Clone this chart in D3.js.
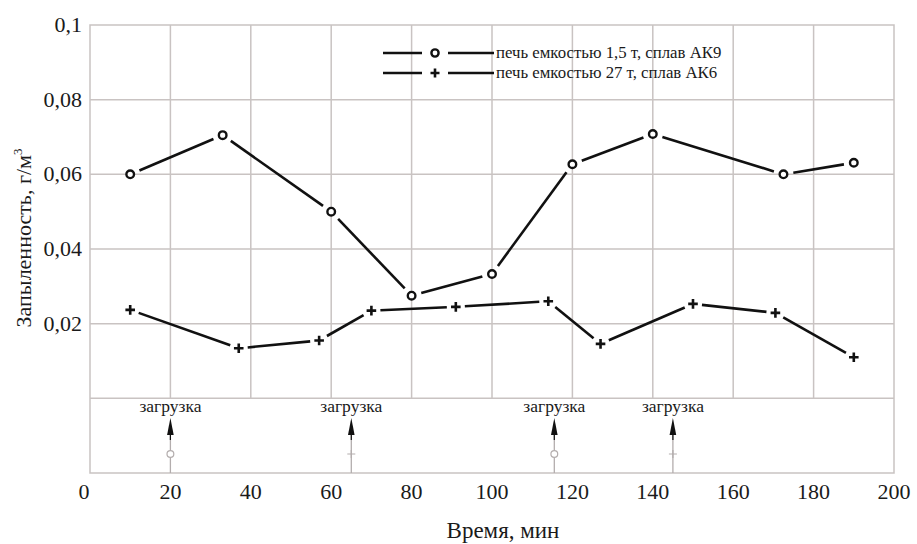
<!DOCTYPE html>
<html>
<head>
<meta charset="utf-8">
<script src="https://cdn.jsdelivr.net/npm/d3@7"></script>
<style>
  body { margin: 0; background: #fff; }
  svg text { fill: #1a1a1a; font-family: "Liberation Serif", serif; }
</style>
</head>
<body>
<script>
// Data
var timeAK9 = [10, 33, 60, 80, 100, 120, 140, 172.5, 190];
var dustAK9 = [0.060, 0.0705, 0.050, 0.0275, 0.0333, 0.0627, 0.0708, 0.060, 0.0631];
var timeAK6 = [10, 37, 57, 70, 91, 114, 127, 150, 170.5, 190];
var dustAK6 = [0.0237, 0.0134, 0.0155, 0.0235, 0.0245, 0.0260, 0.0146, 0.0253, 0.0229, 0.0110];
var loadTimes = [20, 65, 115.5, 145];
var loadMarks = ["circle", "plus", "circle", "plus"];
var xTicks = [0, 20, 40, 60, 80, 100, 120, 140, 160, 180, 200];
var yTicks = [0.02, 0.04, 0.06, 0.08, 0.1];
var yTickLabels = ["0,02", "0,04", "0,06", "0,08", "0,1"];
var legendLabels = ["печь емкостью 1,5 т, сплав АК9", "печь емкостью 27 т, сплав АК6"];

var width = 917, height = 544;
var gridColor = "#c9c3c2";
var serif = "Liberation Serif";

var svg = d3.select("body").append("svg")
    .attr("width", width)
    .attr("height", height);

// Scales: the lower strip (below 0) holds the loading arrows
var x = d3.scaleLinear().domain([0, 200]).range([90, 894]);
var y = d3.scaleLinear().domain([-0.02, 0.1]).range([473, 25]);

// Grid
var grid = svg.append("g");
grid.selectAll("line.v")
    .data(d3.range(20, 200, 20))
    .join("line")
    .attr("x1", d => x(d)).attr("x2", d => x(d))
    .attr("y1", y(0.1)).attr("y2", y(0))
    .attr("stroke", gridColor).attr("stroke-width", 1.5);
grid.selectAll("line.h")
    .data([0, 0.02, 0.04, 0.06, 0.08])
    .join("line")
    .attr("x1", x(0)).attr("x2", x(200))
    .attr("y1", d => y(d)).attr("y2", d => y(d))
    .attr("stroke", gridColor).attr("stroke-width", 1.5);
grid.append("rect")
    .attr("x", x(0)).attr("y", y(0.1))
    .attr("width", x(200) - x(0)).attr("height", y(-0.02) - y(0.1))
    .attr("fill", "none").attr("stroke", gridColor).attr("stroke-width", 1.5);

// Tick labels
svg.append("g").selectAll("text")
    .data(xTicks)
    .join("text")
    .attr("x", d => x(d) - (d === 0 ? 6 : 0))
    .attr("y", 499)
    .attr("text-anchor", "middle")
    .attr("font-family", serif)
    .attr("font-size", 22)
    .text(d => d);
svg.append("g").selectAll("text")
    .data(yTicks)
    .join("text")
    .attr("x", 82)
    .attr("y", d => y(d) + 7)
    .attr("text-anchor", "end")
    .attr("font-family", serif)
    .attr("font-size", 22)
    .text((d, i) => yTickLabels[i]);

// Axis titles
svg.append("text")
    .attr("x", 503).attr("y", 538)
    .attr("text-anchor", "middle")
    .attr("font-family", serif)
    .attr("font-size", 23)
    .text("Время, мин");
var yTitle = svg.append("text")
    .attr("transform", "translate(31,238) rotate(-90)")
    .attr("text-anchor", "middle")
    .attr("font-family", serif)
    .attr("font-size", 22);
yTitle.append("tspan").text("Запыленность, г/м");
yTitle.append("tspan").attr("font-size", 13).attr("dy", -9).text("3");

// Lines drawn as separate segments with gaps around markers
function drawSeries(xs, ys, gap) {
    var pts = xs.map((t, i) => [x(t), y(ys[i])]);
    var segs = d3.pairs(pts);
    svg.append("g").selectAll("line")
        .data(segs)
        .join("line")
        .attr("x1", d => d[0][0] + (d[1][0] - d[0][0]) * gap / len(d))
        .attr("y1", d => d[0][1] + (d[1][1] - d[0][1]) * gap / len(d))
        .attr("x2", d => d[1][0] - (d[1][0] - d[0][0]) * gap / len(d))
        .attr("y2", d => d[1][1] - (d[1][1] - d[0][1]) * gap / len(d))
        .attr("stroke", "#111").attr("stroke-width", 2.6);
    return pts;
}
function len(d) {
    return Math.hypot(d[1][0] - d[0][0], d[1][1] - d[0][1]);
}
function circleMark(g, cx, cy, r, color, w) {
    g.append("circle").attr("cx", cx).attr("cy", cy).attr("r", r)
        .attr("fill", "#fff").attr("stroke", color).attr("stroke-width", w);
}
function plusMark(g, cx, cy, s, color, w) {
    g.append("path")
        .attr("d", `M${cx - s},${cy}H${cx + s}M${cx},${cy - s}V${cy + s}`)
        .attr("stroke", color).attr("stroke-width", w);
}

var pAK9 = drawSeries(timeAK9, dustAK9, 10);
var pAK6 = drawSeries(timeAK6, dustAK6, 9);
var marks = svg.append("g");
pAK9.forEach(p => circleMark(marks, p[0], p[1], 3.8, "#111", 2.4));
pAK6.forEach(p => plusMark(marks, p[0], p[1], 4.8, "#111", 2.6));

// Legend
var legend = svg.append("g");
legendLabels.forEach((lab, i) => {
    var ly = 53 + i * 20;
    legend.append("line").attr("x1", 383).attr("x2", 422).attr("y1", ly).attr("y2", ly)
        .attr("stroke", "#111").attr("stroke-width", 2.4);
    legend.append("line").attr("x1", 448).attr("x2", 494).attr("y1", ly).attr("y2", ly)
        .attr("stroke", "#111").attr("stroke-width", 2.4);
    if (i === 0) circleMark(legend, 435, ly, 3.6, "#111", 2.4);
    else plusMark(legend, 435, ly, 4.5, "#111", 2.6);
    legend.append("text").attr("x", 496).attr("y", ly + 5)
        .attr("font-family", serif)
        .attr("font-size", 16.8).text(lab);
});

// Loading arrows in the lower strip
var loads = svg.append("g");
loadTimes.forEach((t, i) => {
    var ax = x(t);
    loads.append("line").attr("x1", ax).attr("x2", ax).attr("y1", 434).attr("y2", y(-0.02))
        .attr("stroke", "#b3adad").attr("stroke-width", 1.3);
    loads.append("path")
        .attr("d", `M${ax},418L${ax + 3.3},435L${ax - 3.3},435Z`)
        .attr("fill", "#111");
    loads.append("line").attr("x1", ax).attr("x2", ax).attr("y1", 434).attr("y2", 440)
        .attr("stroke", "#111").attr("stroke-width", 1.2);
    if (loadMarks[i] === "circle") circleMark(loads, ax, 454, 3.4, "#b3adad", 1.2);
    else plusMark(loads, ax, 454, 4, "#b3adad", 1.2);
    loads.append("text").attr("x", ax).attr("y", 412)
        .attr("text-anchor", "middle")
        .attr("font-family", serif)
        .attr("font-size", 17.5)
        .text("загрузка");
});
</script>
</body>
</html>
